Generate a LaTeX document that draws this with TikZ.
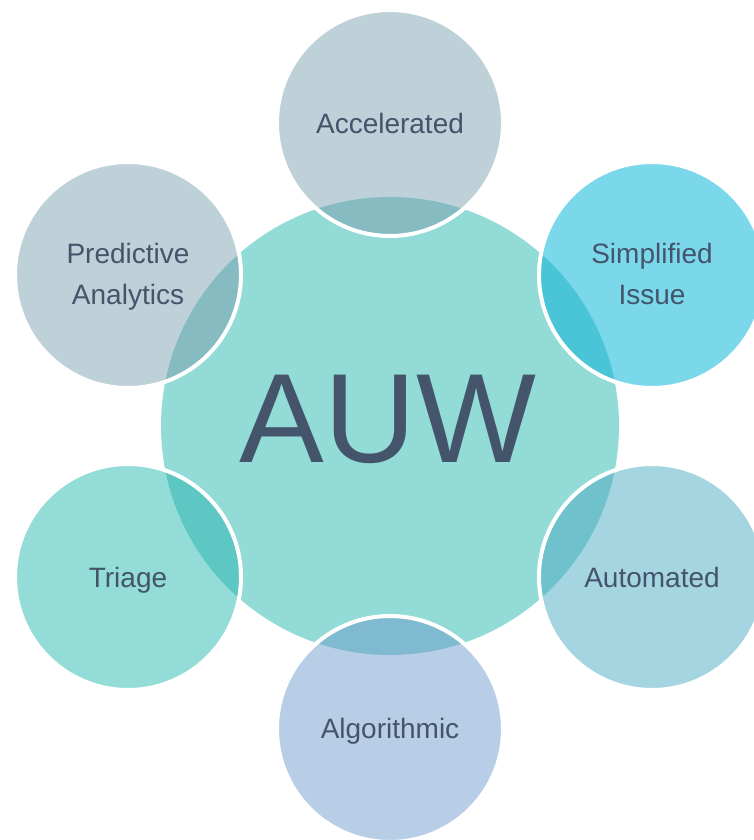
\documentclass[tikz,border=0pt]{standalone}
\usepackage{fontspec}
\setmainfont{Liberation Sans}
\definecolor{txt}{HTML}{44546A}
\definecolor{core}{HTML}{92DBD6}
\definecolor{accL}{HTML}{BED0D8}\definecolor{accD}{HTML}{86BBC2}
\definecolor{simL}{HTML}{7BD8EB}\definecolor{simD}{HTML}{4AC5D7}
\definecolor{autL}{HTML}{A6D5E2}\definecolor{autD}{HTML}{6FC2CC}
\definecolor{algL}{HTML}{B8CEE6}\definecolor{algD}{HTML}{80BAD1}
\definecolor{triL}{HTML}{93DCD7}\definecolor{triD}{HTML}{5DC8C3}
\tikzset{
  lbl/.style={text=txt, font=\fontsize{28}{41}\selectfont, align=center, inner sep=0pt, text depth=0pt},
  big/.style={text=txt, font=\fontsize{127}{130}\selectfont, inner sep=0pt},
}
\newcommand{\petal}[4]{%
  \fill[#3] #1 circle[radius=113];
  \begin{scope}
    \clip (390,426) circle[radius=229];
    \fill[#4] #1 circle[radius=113];
  \end{scope}
  \draw[white, line width=4pt] #1 circle[radius=113];
}
\begin{document}
\begin{tikzpicture}[x=1pt,y=-1pt]
\useasboundingbox (0,0) rectangle (754,840);
\clip (0,0) rectangle (754,840);
\fill[core] (390,426) circle[radius=229];
\petal{(390,123)}{acc}{accL}{accD}
\petal{(652,275)}{sim}{simL}{simD}
\petal{(652,577)}{aut}{autL}{autD}
\petal{(390,729)}{alg}{algL}{algD}
\petal{(128,577)}{tri}{triL}{triD}
\petal{(128,275)}{pre}{accL}{accD}
\node[big] (core) at (388,419) {AUW};
\node[lbl] (acc) at (390,123) {Accelerated};
\node[lbl] (sim) at (652,274) {Simplified\\Issue};
\node[lbl] (aut) at (652,577) {Automated};
\node[lbl] (alg) at (390,728) {Algorithmic};
\node[lbl] (tri) at (128,577) {Triage};
\node[lbl] (pre) at (128,274) {Predictive\\Analytics};
\end{tikzpicture}
\end{document}
